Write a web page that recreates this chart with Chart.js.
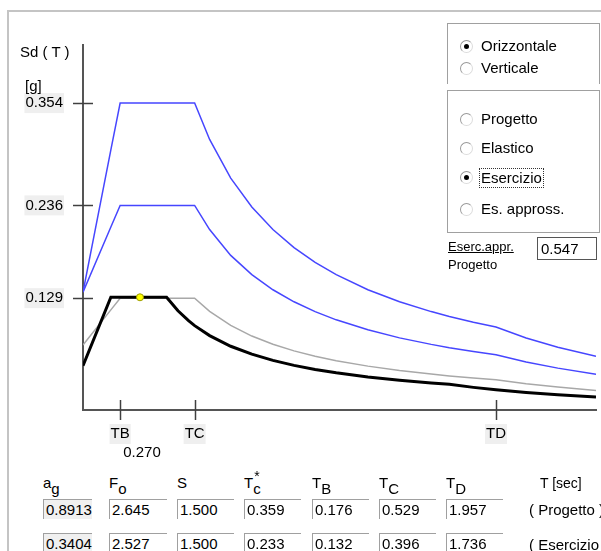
<!DOCTYPE html>
<html>
<head>
<meta charset="utf-8">
<script src="https://cdn.jsdelivr.net/npm/chart.js@4.4.1/dist/chart.umd.min.js"></script>
<style>
  body { margin: 0; width: 601px; height: 551px; overflow: hidden; background: #fff;
         font-family: "Liberation Sans", Arial, sans-serif; font-size: 15px; color: #000; }
  .abs { position: absolute; white-space: nowrap; line-height: 18px; }
  #frame { position: absolute; left: 7px; top: 10px; width: 700px; height: 700px;
           border-top: 2px solid #c4c4c4; border-left: 2px solid #c4c4c4; }
  .group { position: absolute; border: 1px solid #a0a0a0; box-shadow: inset 1px 1px #fff, 1px 1px #fff; }
  .radio { position: absolute; width: 11px; height: 11px; border-radius: 50%;
           border: 1px solid #9a9a9a; border-bottom-color: #dcdcdc; border-right-color: #dcdcdc; background: #fff; }
  .radio.on::after { content: ""; position: absolute; left: 3px; top: 3px; width: 5px; height: 5px;
           border-radius: 50%; background: #000; }
  .box { position: absolute; height: 20px; line-height: 20px; padding-left: 2px; box-sizing: border-box;
         border-top: 1px solid #a0a0a0; border-left: 1px solid #a0a0a0; background: #fff; }
  .box.off { background: #f0f0f0; }
  sub { font-size: 15px; vertical-align: -6px; line-height: 0; }
</style>
</head>
<body>
<div id="frame"></div>
<canvas id="spettro" width="601" height="470" style="position:absolute;left:0;top:0;width:601px;height:470px"></canvas>

<div class="abs" style="left:20px;top:43px">Sd ( T )</div>
<div class="abs" style="left:25px;top:77px">[g]</div>

<!-- right panel -->
<div class="group" style="left:447px;top:23px;width:151px;height:60px;border-bottom:none;box-shadow:inset 1px 1px #fff"></div>
<div class="radio on" style="left:460px;top:40px"></div>
<div class="abs" style="left:481px;top:37px">Orizzontale</div>
<div class="radio" style="left:460px;top:62px"></div>
<div class="abs" style="left:481px;top:59px">Verticale</div>

<div class="group" style="left:447px;top:90px;width:151px;height:141px"></div>
<div class="radio" style="left:460px;top:113px"></div>
<div class="abs" style="left:481px;top:110px">Progetto</div>
<div class="radio" style="left:460px;top:142px"></div>
<div class="abs" style="left:481px;top:139px">Elastico</div>
<div class="radio on" style="left:460px;top:171px"></div>
<div class="abs" style="left:479px;top:168px;border:1px dotted #333;padding:0 1px;line-height:18px">Esercizio</div>
<div class="radio" style="left:460px;top:203px"></div>
<div class="abs" style="left:481px;top:200px">Es. appross.</div>

<div class="abs" style="left:448px;top:238px;font-size:13px;text-decoration:underline">Eserc.appr.</div>
<div class="abs" style="left:448px;top:256px;font-size:13px">Progetto</div>
<div class="abs" style="left:537px;top:237px;width:60px;height:23px;border:1px solid #555;box-sizing:border-box;line-height:21px;padding-left:3px">0.547</div>

<!-- parameter table -->
<div id="tabella"></div>

<script>
// periods T [s] and spectral ordinates Sd(T) [g]
const periods      = [0, 0.132, 0.176, 0.27, 0.396, 0.45, 0.5, 0.529, 0.6, 0.7, 0.8, 0.9, 1.0, 1.1, 1.2, 1.35, 1.5, 1.65, 1.736, 1.85, 1.957, 2.1, 2.25, 2.431];
const elastico     = [0.136, 0.300, 0.354, 0.354, 0.354, 0.354, 0.354, 0.354, 0.3121, 0.2675, 0.2341, 0.2081, 0.1873, 0.1702, 0.1561, 0.1387, 0.1248, 0.1135, 0.1079, 0.1012, 0.0957, 0.0831, 0.0724, 0.0620];
const progetto     = [0.136, 0.211, 0.236, 0.236, 0.236, 0.236, 0.236, 0.236, 0.2081, 0.1783, 0.1561, 0.1387, 0.1248, 0.1135, 0.1040, 0.0925, 0.0832, 0.0757, 0.0719, 0.0675, 0.0638, 0.0554, 0.0483, 0.0413];
const approssimato = [0.075, 0.1155, 0.129, 0.129, 0.129, 0.129, 0.129, 0.129, 0.1137, 0.0975, 0.0853, 0.0758, 0.0682, 0.0620, 0.0569, 0.0506, 0.0455, 0.0414, 0.0393, 0.0369, 0.0349, 0.0303, 0.0264, 0.0226];
const esercizio    = [0.051, 0.130, 0.130, 0.130, 0.130, 0.1144, 0.1030, 0.0973, 0.0858, 0.0735, 0.0644, 0.0572, 0.0515, 0.0468, 0.0429, 0.0381, 0.0343, 0.0312, 0.0297, 0.0261, 0.0233, 0.0203, 0.0177, 0.0151];

// structure period marker
const puntoT = [0.27];
const puntoSd = [0.130];

const yTickValues = [0.129, 0.236, 0.354];
const xTickValues = [0.176, 0.529, 1.957];
const xTickLabels = ["TB", "TC", "TD"];

// table rows
const paramHeads = ["a<sub>g</sub>", "F<sub>o</sub>", "S", "T<span style='position:relative'><span style='position:absolute;left:1px;top:-7px;font-size:14px'>*</span></span><sub>c</sub>", "T<sub>B</sub>", "T<sub>C</sub>", "T<sub>D</sub>"];
const rowProgetto  = ["0.8913", "2.645", "1.500", "0.359", "0.176", "0.529", "1.957"];
const rowEsercizio = ["0.3404", "2.527", "1.500", "0.233", "0.132", "0.396", "1.736"];

const font = "Liberation Sans, Arial, sans-serif";

function pts(ys) {
    return periods.map((t, i) => ({ x: t, y: ys[i] }));
}

// tick marks crossing the axes + period label under the marker
const crossTicks = {
    id: "crossTicks",
    afterDraw(chart) {
        const { ctx, chartArea, scales } = chart;
        ctx.save();
        ctx.strokeStyle = "#404040";
        ctx.lineWidth = 1.5;
        yTickValues.forEach(v => {
            const y = Math.round(scales.y.getPixelForValue(v)) + 0.5;
            ctx.beginPath();
            ctx.moveTo(chartArea.left - 10, y);
            ctx.lineTo(chartArea.left + 10, y);
            ctx.stroke();
        });
        xTickValues.forEach(v => {
            const x = Math.round(scales.x.getPixelForValue(v)) + 0.5;
            ctx.beginPath();
            ctx.moveTo(x, chartArea.bottom - 10);
            ctx.lineTo(x, chartArea.bottom + 10);
            ctx.stroke();
        });
        ctx.fillStyle = "#000";
        ctx.font = "15px " + font;
        ctx.textAlign = "center";
        ctx.textBaseline = "middle";
        ctx.fillText(puntoT[0].toFixed(3), scales.x.getPixelForValue(puntoT[0]) + 2, chartArea.bottom + 43);
        ctx.restore();
    }
};

const ctx = document.getElementById("spettro").getContext("2d");
new Chart(ctx, {
    type: "line",
    data: {
        datasets: [
            {
                type: "scatter",
                data: puntoT.map((t, i) => ({ x: t, y: puntoSd[i] })),
                pointRadius: 3.5,
                pointBackgroundColor: "#ffff00",
                pointBorderColor: "#9c9c00",
                pointBorderWidth: 1
            },
            { data: pts(esercizio), borderColor: "#000000", borderWidth: 3 },
            { data: pts(approssimato), borderColor: "#a8a8a8", borderWidth: 1.5 },
            { data: pts(progetto), borderColor: "#4646ff", borderWidth: 1.5 },
            { data: pts(elastico), borderColor: "#4646ff", borderWidth: 1.5 }
        ]
    },
    options: {
        responsive: false,
        animation: false,
        events: [],
        elements: { line: { tension: 0, fill: false }, point: { radius: 0 } },
        layout: { padding: { top: 45, right: 0, left: 0, bottom: 0 } },
        plugins: { legend: { display: false }, tooltip: { enabled: false } },
        scales: {
            x: {
                type: "linear",
                min: 0,
                max: 2.431,
                grid: { display: false, drawTicks: false },
                border: { color: "#555555", width: 2 },
                afterBuildTicks: s => { s.ticks = xTickValues.map(v => ({ value: v })); },
                afterFit: s => { s.height = 60; },
                ticks: {
                    autoSkip: false,
                    maxRotation: 0,
                    padding: 15,
                    color: "#000",
                    font: { family: font, size: 15 },
                    showLabelBackdrop: true,
                    backdropColor: "#efefef",
                    backdropPadding: 1,
                    callback: (v, i) => xTickLabels[i]
                }
            },
            y: {
                type: "linear",
                min: 0,
                max: 0.421,
                grid: { display: false, drawTicks: false },
                border: { color: "#555555", width: 2 },
                afterBuildTicks: s => { s.ticks = yTickValues.map(v => ({ value: v })); },
                afterFit: s => { s.width = 83; },
                ticks: {
                    autoSkip: false,
                    padding: 20,
                    color: "#000",
                    font: { family: font, size: 15 },
                    showLabelBackdrop: true,
                    backdropColor: "#efefef",
                    backdropPadding: 1,
                    callback: v => v.toFixed(3)
                }
            }
        }
    },
    plugins: [crossTicks]
});

// build the parameter table
const tab = document.getElementById("tabella");
const colX = [43, 109, 177, 244, 312, 379, 446];
const colW = [49, 58, 57, 57, 57, 57, 57];
let html = "";
paramHeads.forEach((h, i) => {
    html += `<div class="abs" style="left:${colX[i]}px;top:474px">${h}</div>`;
    html += `<div class="box${i === 0 ? " off" : ""}" style="left:${colX[i]}px;top:499px;width:${colW[i]}px">${rowProgetto[i]}</div>`;
    html += `<div class="box${i === 0 ? " off" : ""}" style="left:${colX[i]}px;top:533px;width:${colW[i]}px">${rowEsercizio[i]}</div>`;
});
html += `<div class="abs" style="left:540px;top:474px;font-size:14px">T [sec]</div>`;
html += `<div class="abs" style="left:529px;top:501px">( Progetto )</div>`;
html += `<div class="abs" style="left:529px;top:536px">( Esercizio )</div>`;
tab.innerHTML = html;
</script>
</body>
</html>
